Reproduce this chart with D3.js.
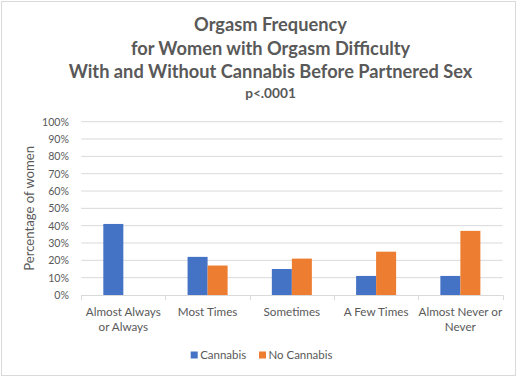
<!DOCTYPE html>
<html><head><meta charset="utf-8">
<script src="https://cdn.jsdelivr.net/npm/d3@7"></script>
<style>html,body{margin:0;padding:0;background:#fff;}svg{display:block;}</style>
</head><body>
<svg id="chart" width="520" height="378"></svg>
<script>
const categories = ["Almost Always\nor Always", "Most Times", "Sometimes", "A Few Times", "Almost Never or\nNever"];
const seriesNames = ["Cannabis", "No Cannabis"];
const cannabis = [0.41, 0.22, 0.15, 0.11, 0.11];
const noCannabis = [0.00, 0.17, 0.21, 0.25, 0.37];
const yTicks = [0, 0.1, 0.2, 0.3, 0.4, 0.5, 0.6, 0.7, 0.8, 0.9, 1.0];
const titleLines = ["Orgasm Frequency", "for Women with Orgasm Difficulty", "With and Without Cannabis Before Partnered Sex"];
const subtitle = "p<.0001";
const yTitle = "Percentage of women";
const colors = ["#4472C4", "#ED7D31"];

const FONT = "Lato, 'Open Sans', sans-serif";
const TXT = "#595959";
const svg = d3.select("#chart");

function fitSize(text, weight, target) {
  const t = svg.append("text").attr("font-family", FONT).attr("font-weight", weight)
    .attr("font-size", 100).text(text);
  const w = t.node().getComputedTextLength();
  t.remove();
  return 100 * target / w;
}

svg.append("rect").attr("x", 0).attr("y", 0).attr("width", 520).attr("height", 378).attr("fill", "#fff");
svg.append("rect").attr("x", 1.5).attr("y", 1.5).attr("width", 514).attr("height", 374)
  .attr("fill", "none").attr("stroke", "#D9D9D9").attr("stroke-width", 1);

const plotL = 81.2, plotR = 502.5, plotT = 121.7, plotB = 295;
const y = d3.scaleLinear().domain([0, 1]).range([plotB, plotT]);
const x0 = d3.scaleBand().domain(categories).range([plotL, plotR]).paddingInner(0).paddingOuter(0);
const groupW = x0.bandwidth() * 0.475;
const x1 = d3.scaleBand().domain(seriesNames).range([0, groupW]).padding(0);

// Title
const tSize = fitSize(titleLines[2], "bold", 404);
const titleY = [30.7, 55, 77.7];
titleLines.forEach((line, i) => {
  svg.append("text").attr("x", 270.5).attr("y", titleY[i]).attr("text-anchor", "middle")
    .attr("font-family", FONT).attr("font-weight", "bold").attr("font-size", tSize)
    .attr("fill", TXT).text(line);
});
const pSize = fitSize(subtitle, "bold", 50.7);
svg.append("text").attr("x", 270.5).attr("y", 97.5).attr("text-anchor", "middle")
  .attr("font-family", FONT).attr("font-weight", "bold").attr("font-size", pSize)
  .attr("fill", TXT).text(subtitle);

// Gridlines
svg.append("g").selectAll("line").data(yTicks.filter(d => d > 0)).join("line")
  .attr("x1", plotL).attr("x2", plotR).attr("y1", d => y(d)).attr("y2", d => y(d))
  .attr("stroke", "#D9D9D9").attr("stroke-width", 1);

// Y axis labels
const yAxis = d3.axisLeft(y).tickValues(yTicks).tickFormat(d3.format(".0%")).tickSize(0).tickPadding(0);
const tickSize = fitSize("100%", "normal", 27);
const gy = svg.append("g").attr("transform", `translate(69,0)`).call(yAxis);
gy.select(".domain").remove();
gy.selectAll("text").attr("font-family", FONT).attr("font-size", tickSize).attr("fill", TXT);

// Y title
const ytSize = fitSize(yTitle, "normal", 125);
svg.append("text").attr("transform", `translate(33.5,${(plotT + plotB) / 2}) rotate(-90)`)
  .attr("text-anchor", "middle").attr("font-family", FONT).attr("font-size", ytSize)
  .attr("fill", TXT).text(yTitle);

// Bars
const data = categories.map((c, i) => ({ cat: c, vals: [cannabis[i], noCannabis[i]] }));
const groups = svg.append("g").selectAll("g").data(data).join("g")
  .attr("transform", d => `translate(${x0(d.cat) + (x0.bandwidth() - groupW) / 2},0)`);
groups.selectAll("rect").data(d => d.vals.map((v, j) => ({ s: seriesNames[j], v, j }))).join("rect")
  .attr("x", d => x1(d.s)).attr("width", x1.bandwidth())
  .attr("y", d => y(d.v)).attr("height", d => plotB - y(d.v))
  .attr("fill", d => colors[d.j]);

// X axis
const xAxis = d3.axisBottom(x0).tickSize(0).tickFormat("");
const gx = svg.append("g").attr("transform", `translate(0,${plotB})`).call(xAxis);
gx.select(".domain").attr("stroke", "#D9D9D9").attr("d", `M${plotL},0.5H${plotR}`);
const edges = categories.map(c => x0(c)).concat([plotR]);
svg.append("g").selectAll("line").data(edges).join("line")
  .attr("x1", d => Math.round(d) + 0.5).attr("x2", d => Math.round(d) + 0.5)
  .attr("y1", plotB).attr("y2", plotB + 5).attr("stroke", "#D9D9D9");

const xlSize = fitSize("Almost Always", "normal", 75);
categories.forEach(c => {
  const lines = c.split("\n");
  const t = svg.append("text").attr("text-anchor", "middle").attr("font-family", FONT)
    .attr("font-size", xlSize).attr("fill", TXT);
  lines.forEach((ln, k) => {
    t.append("tspan").attr("x", x0(c) + x0.bandwidth() / 2).attr("y", 316 + k * 15).text(ln);
  });
});

// Legend
const lgSize = fitSize("No Cannabis", "normal", 64);
const legendX = [190.7, 259];
seriesNames.forEach((s, i) => {
  svg.append("rect").attr("x", legendX[i]).attr("y", 351.5).attr("width", 7).attr("height", 7)
    .attr("fill", colors[i]);
  svg.append("text").attr("x", legendX[i] + 9.5).attr("y", 358.5).attr("font-family", FONT)
    .attr("font-size", lgSize).attr("fill", TXT).text(s);
});
</script>
</body></html>
